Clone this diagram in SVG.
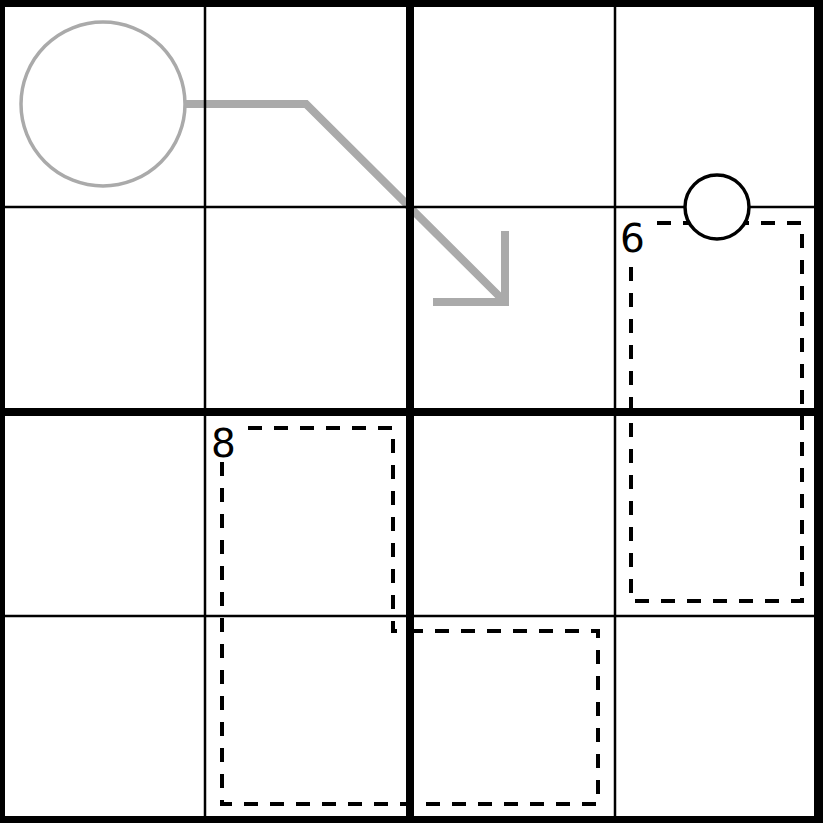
<svg xmlns="http://www.w3.org/2000/svg" width="823" height="823" viewBox="0 0 823 823">
<style>
.thin{stroke:#000;stroke-width:2.5;fill:none}
.thick{stroke:#000;stroke-width:8;fill:none}
.cage{stroke:#000;stroke-width:4;fill:none;stroke-dasharray:14 12}
.lbl{font-family:"DejaVu Sans",sans-serif;font-size:39px;fill:#000}
.gray{stroke:#aaa;fill:none}
</style>
<rect x="0" y="0" width="823" height="823" fill="#fff"/>
<g id="thermo">
<circle cx="103" cy="104" r="82" class="gray" stroke-width="3.5" fill="#fff"/>
<polyline points="186,104 306,104 505,302" class="gray" stroke-width="8"/>
<polyline points="433,302 505,302 505,231" class="gray" stroke-width="8"/>
</g>
<g id="grid">
<line x1="205" y1="0" x2="205" y2="823" class="thin"/>
<line x1="615" y1="0" x2="615" y2="823" class="thin"/>
<line x1="0" y1="207" x2="823" y2="207" class="thin"/>
<line x1="0" y1="616" x2="823" y2="616" class="thin"/>
<line x1="410" y1="0" x2="410" y2="823" class="thick"/>
<line x1="0" y1="412" x2="823" y2="412" class="thick"/>
<rect x="0" y="2" width="819" height="819" stroke="#000" stroke-width="10" fill="none"/>
</g>
<g id="cage6">
<rect x="631" y="223" width="171" height="378" class="cage"/>
<rect x="619" y="213" width="26" height="43" fill="#fff"/>
<text x="620" y="252" class="lbl">6</text>
</g>
<g id="cage8">
<path d="M222,428 H393 V631 H598 V804 H222 Z" class="cage"/>
<rect x="210" y="419" width="26" height="43" fill="#fff"/>
<text x="211" y="457" class="lbl">8</text>
</g>
<g id="dot">
<circle cx="717" cy="207" r="32" fill="#fff" stroke="#000" stroke-width="3.5"/>
</g>
</svg>
